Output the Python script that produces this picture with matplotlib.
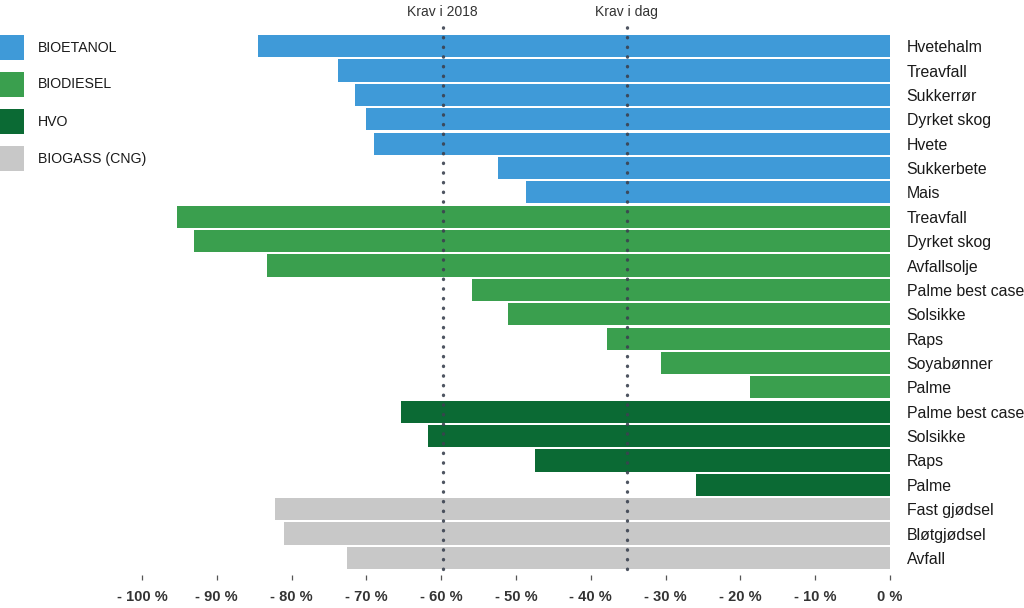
import matplotlib.pyplot as plt
from matplotlib.patches import Rectangle

plt.rcParams['font.family'] = ['Liberation Sans', 'DejaVu Sans']

# Data: reduction in emissions per fuel / raw material (percent)
bioetanol_labels = ['Hvetehalm', 'Treavfall', 'Sukkerrør', 'Dyrket skog', 'Hvete', 'Sukkerbete', 'Mais']
bioetanol_values = [-84.5, -73.8, -71.5, -70.1, -69.0, -52.4, -48.7]

biodiesel_labels = ['Treavfall', 'Dyrket skog', 'Avfallsolje', 'Palme best case', 'Solsikke',
                    'Raps', 'Soyabønner', 'Palme']
biodiesel_values = [-95.3, -93.0, -83.3, -55.9, -51.1, -37.8, -30.6, -18.7]

hvo_labels = ['Palme best case', 'Solsikke', 'Raps', 'Palme']
hvo_values = [-65.4, -61.8, -47.5, -25.9]

biogass_labels = ['Fast gjødsel', 'Bløtgjødsel', 'Avfall']
biogass_values = [-82.2, -81.0, -72.6]

group_names = ['BIOETANOL', 'BIODIESEL', 'HVO', 'BIOGASS (CNG)']
group_colors = ['#3f9ad8', '#3a9f4e', '#0b6a34', '#c8c8c8']

requirements = [-59.8, -35.2]
requirement_labels = ['Krav i 2018', 'Krav i dag']

xticks = [-100, -90, -80, -70, -60, -50, -40, -30, -20, -10, 0]
xtick_labels = ['- 100 %', '- 90 %', '- 80 %', '- 70 %', '- 60 %', '- 50 %',
                '- 40 %', '- 30 %', '- 20 %', '- 10 %', '0 %']

groups = [(bioetanol_labels, bioetanol_values),
          (biodiesel_labels, biodiesel_values),
          (hvo_labels, hvo_values),
          (biogass_labels, biogass_values)]

W, H = 1024, 608
fig = plt.figure(figsize=(W / 100, H / 100), dpi=100)
ax = fig.add_axes([142 / W, (H - 575) / H, 748 / W, (575 - 34) / H])

all_labels = []
row = 0
for (labels, values), color in zip(groups, group_colors):
    for lab, val in zip(labels, values):
        ax.barh(row, val, height=0.91, color=color, edgecolor='none', zorder=2)
        all_labels.append(lab)
        row += 1

n = len(all_labels)
ax.set_ylim(n - 0.5 + 0.2, -0.5)
ax.set_xlim(-100, 0)

# requirement lines
for xv, lab in zip(requirements, requirement_labels):
    ax.plot([xv, xv], [n - 0.55, -0.98], linestyle=(0, (0.1, 2.8)), linewidth=2.4,
            dash_capstyle='round', color='#3b4250', alpha=0.9, zorder=3, clip_on=False)
    ax.text(xv, -1.1, lab, ha='center', va='bottom', fontsize=10, color='#333333')

ax.set_yticks(range(n))
ax.set_yticklabels(all_labels, fontsize=11.4, color='#1a1a1a')
ax.yaxis.tick_right()
ax.tick_params(axis='y', length=0, pad=12)

ax.set_xticks(xticks)
ax.set_xticklabels(xtick_labels, fontsize=10.5, fontweight='bold', color='#333333')
ax.tick_params(axis='x', length=3.5, width=0.9, color='#555555', pad=7)

for s in ax.spines.values():
    s.set_visible(False)

# legend
for i, (name, color) in enumerate(zip(group_names, group_colors)):
    top = 35 + i * 37
    fig.add_artist(Rectangle((0, (H - top - 25) / H), 24 / W, 25 / H,
                             transform=fig.transFigure, color=color, lw=0))
    fig.text(38 / W, (H - top - 12.5) / H, name, ha='left', va='center',
             fontsize=10.2, color='#1a1a1a')

plt.savefig('out.png', dpi=100)
